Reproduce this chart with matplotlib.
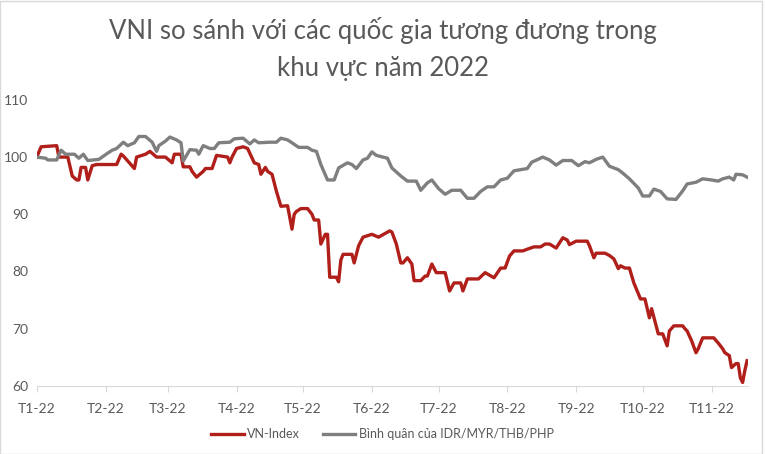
import numpy as np
import matplotlib
matplotlib.use("Agg")
import matplotlib.pyplot as plt
from matplotlib.patches import Rectangle

plt.rcParams['font.family'] = ['Lato', 'DejaVu Sans']

# days since 2022-01-01
vni_day = [0, 2, 9, 10, 14, 16, 18, 19, 20, 22, 23, 25, 27, 36, 38, 39, 44, 45, 49, 51,
           54, 58, 61, 62, 65, 66, 69, 70, 72, 75, 76, 79, 81, 86, 87, 88, 90, 93, 95, 98,
           100, 101, 103, 104, 106, 108, 110, 113, 115, 116, 117, 119, 122, 124, 125, 127, 128, 130, 131, 132,
           135, 136, 137, 138, 142, 143, 145, 147, 151, 154, 159, 160, 162, 164, 165, 167, 169, 170, 173, 175,
           176, 178, 180, 184, 186, 188, 191, 192, 194, 199, 202, 206, 209, 211, 213, 215, 219, 221, 224, 227,
           229, 231, 234, 237, 239, 240, 243, 248, 249, 251, 252, 256, 258, 260, 262, 263, 265, 267, 269, 272,
           274, 276, 277, 280, 282, 284, 285, 287, 291, 292, 293, 295, 297, 298, 300, 305, 307, 309, 310, 312,
           313, 315, 316, 317, 318, 319, 320]
vni_val = [100, 101.8, 102, 100, 100, 96.7, 96, 96, 98.2, 98.2, 96, 98.5, 98.7, 98.7, 100.5, 100.2, 98, 100, 100.5, 101,
           100, 100, 99, 100.5, 100.5, 98.3, 98.3, 97.5, 96.5, 97.5, 98, 98, 100.3, 100, 99, 100, 101.5, 101.8, 101.5, 99,
           98.7, 97, 98.2, 97.5, 97, 94, 91.4, 91.5, 87.4, 90, 90.5, 91, 91, 90, 89, 89, 84.8, 86.5, 86.5, 79,
           79, 78.2, 82, 83, 83, 81.5, 84.5, 86, 86.5, 86, 87.1, 86.9, 84.8, 81.5, 81.5, 82.4, 81.3, 78.4, 78.4, 79.2,
           79.2, 81.3, 79.8, 79.8, 76.6, 78.0, 78.0, 76.6, 78.7, 78.7, 79.8, 78.9, 80.6, 80.6, 82.7, 83.6, 83.6, 83.9, 84.3, 84.3,
           84.8, 84.8, 84.1, 85.9, 85.5, 84.7, 85.3, 85.3, 84.5, 82.4, 83.2, 83.2, 82.8, 82.2, 80.5, 81, 80.6, 80.6, 78.0, 75.2,
           75.2, 71.9, 73.5, 69.1, 69.1, 67.0, 69.6, 70.5, 70.5, 70.0, 69.6, 67.9, 65.8, 66.5, 68.4, 68.4, 67.5, 66.5, 65.8, 65.3,
           63.2, 63.9, 63.9, 61.4, 60.6, 62.7, 64.4]

avg_day = [0, 4, 5, 9, 11, 13, 17, 19, 21, 23, 28, 32, 34, 36, 39, 41, 44, 46, 49, 52,
           54, 55, 58, 60, 63, 65, 66, 69, 72, 73, 75, 78, 80, 82, 87, 89, 93, 96, 98, 100,
           105, 108, 110, 113, 115, 118, 122, 124, 126, 128, 131, 134, 136, 140, 142, 144, 147, 149, 151, 153,
           154, 158, 160, 164, 167, 171, 173, 176, 178, 181, 184, 187, 191, 194, 197, 200, 203, 206, 209, 212,
           215, 221, 223, 228, 231, 234, 237, 241, 244, 247, 249, 252, 255, 258, 262, 264, 267, 271, 273, 276,
           278, 281, 284, 288, 291, 293, 297, 300, 304, 307, 309, 312, 314, 315, 318, 320]
avg_val = [100, 99.8, 99.5, 99.5, 101.2, 100.5, 100.5, 99.8, 100.5, 99.4, 99.6, 100.7, 101.2, 101.5, 102.6, 102, 102.5, 103.6, 103.6, 102.6,
           101, 102, 102.8, 103.5, 103, 102.5, 99.3, 101.3, 101.2, 100.5, 102, 101.5, 101.5, 102.5, 102.6, 103.2, 103.3, 102.3, 103, 102.5,
           102.6, 102.6, 103.3, 103, 102.5, 101.7, 101.7, 101.2, 101, 98.7, 96, 96, 98.1, 99, 98.7, 98, 99.5, 99.8, 100.9, 100.3,
           100.2, 99.8, 98.1, 96.7, 95.8, 95.8, 94.2, 95.5, 96, 94.5, 93.5, 94.2, 94.2, 92.8, 92.8, 94, 94.8, 94.8, 96, 96.3,
           97.6, 98, 99.1, 100, 99.5, 98.6, 99.4, 99.4, 98.5, 99.2, 99, 99.6, 100, 98.4, 97.8, 97.2, 96.2, 94.6, 93.2, 93.2,
           94.4, 94, 92.7, 92.6, 94.1, 95.3, 95.6, 96.2, 96, 95.8, 96.2, 96.5, 96, 97, 96.9, 96.5]

month_labels = ["T1-22", "T2-22", "T3-22", "T4-22", "T5-22", "T6-22",
                "T7-22", "T8-22", "T9-22", "T10-22", "T11-22"]
month_days = (np.arange('2022-01', '2022-12', dtype='datetime64[M]').astype('datetime64[D]')
              - np.datetime64('2022-01-01')).astype(int)

txt = '#595959'
fig = plt.figure(figsize=(7.65, 4.54), dpi=100)
ax = fig.add_axes([0.048, 0.150, 0.930, 0.630])

ax.plot(vni_day, vni_val, color='#B01F1A', lw=2.4, label='VN-Index', solid_joinstyle='round')
ax.plot(avg_day, avg_val, color='#7F7F7F', lw=2.4, label='Bình quân của IDR/MYR/THB/PHP', solid_joinstyle='round')

ax.set_xlim(0, 320.5)
ax.set_ylim(60, 110)
ax.set_yticks([60, 70, 80, 90, 100, 110])
ax.set_xticks(month_days)
ax.set_xticklabels(month_labels)

for s in ['top', 'right', 'left']:
    ax.spines[s].set_visible(False)
ax.spines['bottom'].set_color('#D9D9D9')
ax.tick_params(axis='x', colors='#D9D9D9', length=4, labelcolor=txt, labelsize=10, pad=8)
ax.tick_params(axis='y', length=0, labelcolor=txt, labelsize=10, pad=6)

fig.suptitle('VNI so sánh với các quốc gia tương đương trong\nkhu vực năm 2022',
             y=0.962, fontsize=18.5, color=txt, linespacing=1.6)

leg = fig.legend(loc='center', bbox_to_anchor=(0.5, 0.043), ncol=2, frameon=False,
                 fontsize=9, handlelength=2.6, columnspacing=1.8, handletextpad=0.3)
for t in leg.get_texts():
    t.set_color(txt)

fig.patches.append(Rectangle((0.0, 0.0), 0.996, 0.997, transform=fig.transFigure,
                             fill=False, edgecolor='#D9D9D9', lw=1))

fig.savefig('out.png', dpi=100)
